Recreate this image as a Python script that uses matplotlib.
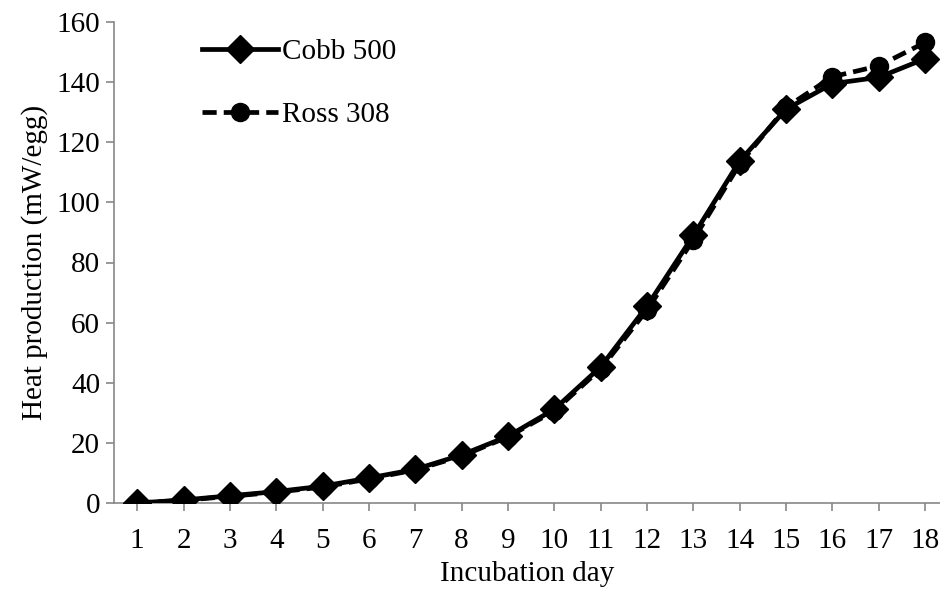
import matplotlib
matplotlib.use("Agg")
import matplotlib.pyplot as plt

plt.rcParams['font.family'] = ['Liberation Serif', 'DejaVu Serif']

days = list(range(1, 19))
cobb_500 = [0, 1.0, 2.4, 3.8, 5.6, 8.3, 11.2, 16.0, 22.2, 31.2, 45.3, 65.5, 89.0, 113.8, 131.0, 139.5, 141.6, 147.8]
ross_308 = [0, 0.9, 2.2, 3.6, 5.3, 8.0, 11.0, 15.6, 22.0, 30.6, 44.6, 64.2, 87.6, 112.8, 131.6, 141.8, 145.4, 153.2]

fig = plt.figure(figsize=(9.4, 5.93), dpi=100)
ax = fig.add_axes([114/940, 1 - 503/593, 1 - 114/940, 481/593])

ax.plot(days, cobb_500, color='black', lw=3.4, marker='D', ms=14, label='Cobb 500', zorder=3)
ax.plot(days, ross_308, color='black', lw=3.4, ls=(0, (3, 1.5)), marker='o', ms=13, label='Ross 308', zorder=2)

ax.set_xlim(0.5, 18.32)
ax.set_ylim(0, 160)
ax.set_xticks(days)
ax.set_yticks(range(0, 161, 20))
for s in ['top', 'right']:
    ax.spines[s].set_visible(False)
for s in ['left', 'bottom']:
    ax.spines[s].set_color('#888888')
    ax.spines[s].set_linewidth(1.2)
ax.tick_params(colors='#888888', labelcolor='black', labelsize=21, length=6, width=1.2)
ax.tick_params(axis='x', pad=12)
ax.tick_params(axis='y', pad=4)
ax.set_xlabel('Incubation day', fontsize=21, labelpad=5)
ax.set_ylabel('Heat production (mW/egg)', fontsize=21, labelpad=6)

ax.legend(loc='upper left', bbox_to_anchor=(0.075, 1.02), frameon=False, fontsize=21,
          handlelength=2.6, labelspacing=1.25, handletextpad=0.15)

fig.savefig('out.png', dpi=100)
